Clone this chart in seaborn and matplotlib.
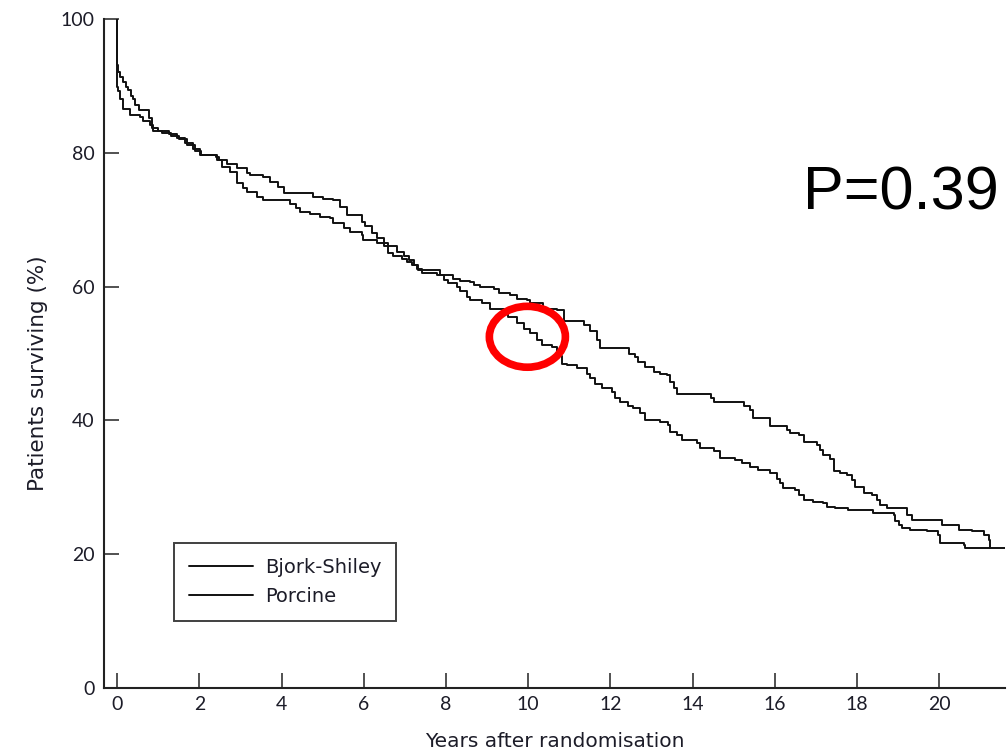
import numpy as np
import pandas as pd
import matplotlib
matplotlib.use("Agg")
import matplotlib.pyplot as plt
from matplotlib.patches import Ellipse
from matplotlib.lines import Line2D
import seaborn as sns

# ---- data ----
bjork_years = [0, 0, 0.02, 0.08, 0.15, 0.22, 0.27, 0.33, 0.38, 0.44, 0.52, 0.78, 0.84, 1.0, 1.25, 1.45,
               1.65, 1.85, 2.02, 2.4, 2.47, 2.55, 2.75, 2.91, 3.07, 3.16, 3.4, 3.56, 4.21, 4.35, 4.45,
               4.70, 4.94, 5.18, 5.26, 5.51, 5.67, 5.95, 5.99, 6.32, 6.48, 6.6, 6.72, 6.93, 7.05, 7.17,
               7.29, 7.41, 7.78, 8.18, 8.35, 8.59, 8.67, 8.83, 9.16, 9.28, 9.56, 9.73, 9.97, 10.05,
               10.37, 10.7, 10.86, 11.35, 11.51, 11.67, 11.75, 12.45, 12.6, 12.68, 12.85, 13.05, 13.21,
               13.37, 13.45, 13.55, 13.62, 14.45, 14.51, 15.24, 15.4, 15.48, 15.89, 16.3, 16.37, 16.58,
               16.7, 17.02, 17.1, 17.18, 17.35, 17.43, 17.59, 17.75, 17.88, 17.96, 18.16, 18.36, 18.48,
               18.56, 18.73, 19.21, 19.34, 20.06, 20.47, 20.79, 21.08, 21.2, 21.24, 21.6]
bjork_surv = [100, 93.1, 92.1, 91.4, 90.6, 89.8, 89.4, 88.5, 88.1, 87.1, 86.4, 85.2, 83.7, 83.2, 82.8, 82.2,
              81.5, 80.6, 79.6, 79.4, 78.9, 77.9, 77.2, 75.5, 74.7, 74.2, 73.4, 72.9, 72.4, 71.8, 71.2,
              70.9, 70.4, 70.2, 69.5, 68.7, 68.2, 67.7, 66.9, 66.5, 66.0, 65.0, 64.5, 64.2, 63.7, 63.2,
              62.7, 62.0, 61.7, 61.2, 60.9, 60.7, 60.2, 60.0, 59.7, 59.0, 58.7, 58.2, 58.0, 57.5,
              56.7, 56.5, 54.8, 54.3, 53.3, 52.0, 50.8, 50.0, 49.5, 48.8, 48.0, 47.3, 47.0,
              46.8, 45.8, 44.8, 44.0, 43.4, 42.8, 42.1, 41.6, 40.3, 39.1, 38.6, 38.1, 37.8,
              36.8, 36.3, 35.6, 34.8, 34.3, 32.4, 32.1, 31.8, 31.1, 30.1, 29.1, 28.8, 28.1,
              27.4, 26.9, 25.9, 25.1, 24.4, 23.6, 23.4, 22.9, 22.1, 20.9, 20.9]

porcine_years = [0, 0, 0.03, 0.07, 0.15, 0.32, 0.56, 0.64, 0.8, 0.88, 1.1, 1.3, 1.5, 1.7, 1.9, 2.05, 2.42,
                 2.67, 2.91, 3.16, 3.24, 3.56, 3.72, 3.92, 4.05, 4.77, 5.0, 5.26, 5.43, 5.59, 5.95, 6.03,
                 6.2, 6.32, 6.48, 6.6, 6.81, 6.97, 7.09, 7.21, 7.33, 7.86, 7.94, 8.06, 8.27, 8.35, 8.51,
                 8.59, 8.87, 9.08, 9.4, 9.52, 9.73, 9.89, 10.05, 10.21, 10.33, 10.58, 10.7, 10.78, 10.82,
                 10.94, 11.18, 11.43, 11.51, 11.63, 11.79, 12.04, 12.12, 12.24, 12.44, 12.56, 12.73,
                 12.85, 13.21, 13.41, 13.45, 13.62, 13.74, 14.1, 14.18, 14.51, 14.67, 15.04, 15.2, 15.4,
                 15.6, 15.89, 16.05, 16.13, 16.21, 16.5, 16.58, 16.7, 16.94, 17.18, 17.26, 17.47, 17.79,
                 18.4, 18.89, 18.93, 19.01, 19.09, 19.29, 19.7, 19.98, 20.02, 20.6, 20.63, 21.24]
porcine_surv = [100, 89.9, 89.2, 88.1, 86.6, 85.6, 85.4, 84.7, 84.2, 83.2, 82.9, 82.5, 82.0, 81.2, 80.3, 79.6, 78.9,
                78.4, 77.7, 77.0, 76.7, 76.4, 75.7, 74.9, 74.0, 73.4, 73.1, 72.9, 71.9, 70.7, 69.7, 69.0,
                68.0, 67.2, 66.5, 66.0, 65.2, 64.5, 64.0, 63.2, 62.5, 61.7, 61.0, 60.5, 60.0, 59.3, 58.5,
                58.0, 57.5, 56.7, 56.0, 55.5, 54.5, 53.7, 53.0, 52.0, 51.3, 51.0, 50.3, 49.6, 48.5,
                48.3, 47.8, 47.0, 46.3, 45.5, 44.8, 44.3, 43.3, 42.8, 42.1, 41.8, 41.1,
                40.1, 39.8, 39.3, 38.3, 37.8, 37.1, 36.6, 35.9, 35.4, 34.4, 34.1, 33.6, 33.1,
                32.6, 32.1, 31.3, 30.6, 29.9, 29.6, 28.8, 28.1, 27.8, 27.6, 27.1, 26.9, 26.6,
                26.1, 25.9, 24.9, 24.4, 23.9, 23.6, 23.4, 22.9, 21.6, 21.4, 20.9, 20.9]

group_labels = ["Bjork-Shiley", "Porcine"]
x_ticks = list(range(0, 21, 2))
y_ticks = [0, 20, 40, 60, 80, 100]
p_text = "P=0.39"

# ---- style ----
sns.set_style("ticks")
plt.rcParams["font.family"] = ["Lato", "DejaVu Sans"]

df = pd.concat([
    pd.DataFrame({"years": bjork_years, "surv": bjork_surv, "group": group_labels[0]}),
    pd.DataFrame({"years": porcine_years, "surv": porcine_surv, "group": group_labels[1]}),
], ignore_index=True)

fig = plt.figure(figsize=(10.08, 7.53), dpi=100)
ax = fig.add_axes([104 / 1008, 1 - 688 / 753, (1005 - 104) / 1008, (688 - 19) / 753])

sns.lineplot(data=df, x="years", y="surv", hue="group", palette=["#111111", "#111111"],
             estimator=None, sort=False, drawstyle="steps-post", linewidth=1.4,
             legend=False, ax=ax)

ax.set_xlim(-0.32, 21.6)
ax.set_ylim(0, 100)
ax.set_xticks(x_ticks)
ax.set_yticks(y_ticks)
txtcol = "#1c1c28"
ax.tick_params(direction="in", length=11, width=1.2, color="#333333",
               labelsize=14, labelcolor=txtcol)
ax.tick_params(axis="y", pad=7)
ax.tick_params(axis="x", pad=6)
for s in ["top", "right"]:
    ax.spines[s].set_visible(False)
for s in ["left", "bottom"]:
    ax.spines[s].set_linewidth(1.5)
    ax.spines[s].set_color("#222222")

ax.set_xlabel("Years after randomisation", fontsize=14.5, color=txtcol, family="DejaVu Sans")
ax.set_ylabel("Patients surviving (%)", fontsize=15.5, color=txtcol, family="DejaVu Sans")
ax.xaxis.set_label_coords(0.5, -0.066)
ax.yaxis.set_label_coords(-0.062, 0.47)

handles = [Line2D([], [], color="#111111", lw=1.4) for _ in group_labels]
leg = ax.legend(handles, group_labels, loc="upper left",
                bbox_to_anchor=(174 / 1008, 1 - 543 / 753), bbox_transform=fig.transFigure,
                prop={"family": "DejaVu Sans", "size": 14},
                handlelength=3.3, handletextpad=0.65, labelspacing=0.55,
                borderpad=0.75, borderaxespad=0, fancybox=False, frameon=True)
leg.get_frame().set_edgecolor("#111111")
leg.get_frame().set_linewidth(1.4)
for t in leg.get_texts():
    t.set_color(txtcol)

ax.add_patch(Ellipse((9.98, 52.5), 1.85, 9.1, fill=False, edgecolor="#ff0000", linewidth=5.5,
                     zorder=5))

fig.text(803 / 1008, 1 - 210 / 753, p_text, fontsize=44, family="Liberation Sans",
         color="black", va="baseline", ha="left")

fig.savefig("out.png", dpi=100, facecolor="white")
